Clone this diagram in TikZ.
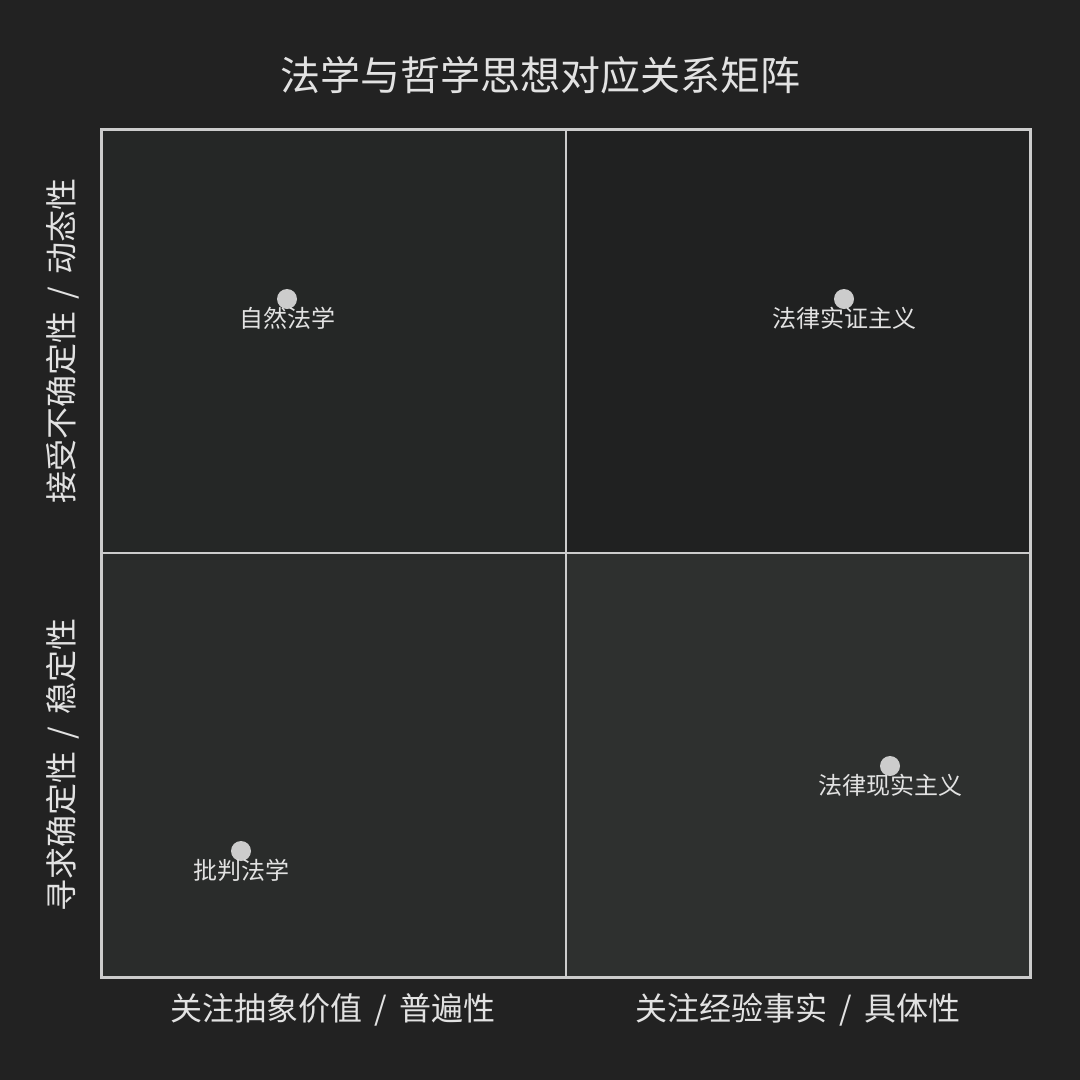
\documentclass[tikz,border=0pt]{standalone}
\usepackage{fontspec}
\newfontfamily\cjk{Noto Sans CJK SC}
\definecolor{bgdark}{HTML}{222222}
\definecolor{qtl}{HTML}{252726}
\definecolor{qtr}{HTML}{202121}
\definecolor{qbl}{HTML}{2A2C2B}
\definecolor{qbr}{HTML}{2E302F}
\definecolor{rule}{HTML}{CCCCCC}
\definecolor{ink}{HTML}{E2E2E2}
\tikzset{
  axislabel/.style={text=ink,font=\cjk\fontsize{32}{36}\selectfont,inner sep=0pt},
  ptlabel/.style={text=ink,font=\cjk\fontsize{24}{27}\selectfont,inner sep=0pt},
  pt/.style={circle,fill=rule,minimum size=20pt,inner sep=0pt}
}

\begin{document}
\begin{tikzpicture}[x=1pt,y=-1pt]
  \fill[bgdark] (0,0) rectangle (1080,1080);
  % quadrants
  \fill[qtl] (101,129) rectangle (566,553);
  \fill[qtr] (566,129) rectangle (1030,553);
  \fill[qbl] (101,553) rectangle (566,977);
  \fill[qbr] (566,553) rectangle (1030,977);
  \draw[rule,line width=1.8pt] (566,129) -- (566,977);
  \draw[rule,line width=1.8pt] (101,553) -- (1030,553);
  \draw[rule,line width=3pt] (101,129) rectangle (1030,977);
  % title and axes
  \node[text=ink,font=\cjk\fontsize{40}{45}\selectfont,inner sep=0pt] (title) at (540,75) {法学与哲学思想对应关系矩阵};
  \node[axislabel] (xleft) at (333,1010) {关注抽象价值 \,/\, 普遍性};
  \node[axislabel] (xright) at (798,1010) {关注经验事实 \,/\, 具体性};
  \node[axislabel,rotate=90] (ytop) at (63,341) {接受不确定性 \,/\, 动态性};
  \node[axislabel,rotate=90] (ybot) at (63,765) {寻求确定性 \,/\, 稳定性};
  % schools
  \node[pt] (natural) at (287,299) {};
  \node[ptlabel] (naturallbl) at (287,318) {自然法学};
  \node[pt] (positivism) at (844,299) {};
  \node[ptlabel] (positivismlbl) at (844,318) {法律实证主义};
  \node[pt] (realism) at (890,766) {};
  \node[ptlabel] (realismlbl) at (890,785) {法律现实主义};
  \node[pt] (critical) at (241,851) {};
  \node[ptlabel] (criticallbl) at (241,870) {批判法学};
\end{tikzpicture}
\end{document}
